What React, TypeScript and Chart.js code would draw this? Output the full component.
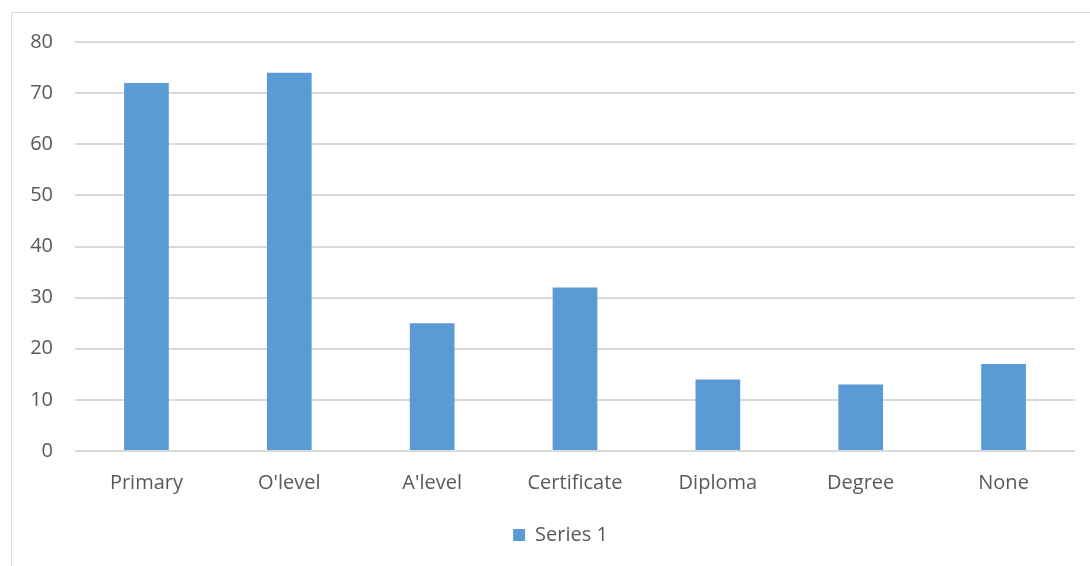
import React, { useEffect, useRef } from "react";
import { Chart, registerables } from "chart.js";

Chart.register(...registerables);

const categories = ["Primary", "O'level", "A'level", "Certificate", "Diploma", "Degree", "None"];
const series1 = [72, 74, 25, 32, 14, 13, 17];
const seriesName = "Series 1";
const yMin = 0;
const yMax = 80;
const yStep = 10;

const FONT = "'Open Sans', Lato, sans-serif";
const TEXT = "#595959";
const GRID = "#d9d9d9";
const BAR = "#5B9BD5";

const legendShift = {
  id: "legendShift",
  afterLayout(chart: any) {
    const l = chart.legend;
    if (!l) return;
    l.left += 23;
    l.right += 23;
  },
};

export default function App() {
  const ref = useRef<HTMLCanvasElement | null>(null);

  useEffect(() => {
    document.body.style.margin = "0";
    const ctx = ref.current;
    if (!ctx) return;
    const chart = new Chart(ctx, {
      type: "bar",
      data: {
        labels: categories,
        datasets: [
          {
            label: seriesName,
            data: series1,
            backgroundColor: BAR,
            borderWidth: 0,
            categoryPercentage: 1,
            barPercentage: 0.313,
          },
        ],
      },
      options: {
        responsive: false,
        animation: false,
        devicePixelRatio: 1,
        layout: { padding: { left: 0, right: 15, top: 42, bottom: 11 } },
        plugins: {
          legend: {
            position: "bottom",
            labels: {
              boxWidth: 12,
              boxHeight: 12,
              color: TEXT,
              font: { family: FONT, size: 20 },
              padding: 10,
            },
          },
          tooltip: { enabled: false },
        },
        scales: {
          x: {
            grid: { display: false, drawTicks: false },
            border: { display: false },
            ticks: { color: TEXT, font: { family: FONT, size: 20 }, padding: 20, maxRotation: 0 },
            afterFit: (s: any) => {
              s.height = 64;
            },
          },
          y: {
            min: yMin,
            max: yMax,
            grid: { color: GRID, lineWidth: 2, drawTicks: false },
            border: { display: false },
            ticks: {
              stepSize: yStep,
              color: TEXT,
              font: { family: FONT, size: 20 },
              padding: 22,
            },
            afterFit: (s: any) => {
              s.width = 75;
            },
          },
        },
      },
      plugins: [legendShift],
    });
    return () => chart.destroy();
  }, []);

  return (
    <div style={{ position: "fixed", left: 0, top: 0, width: 1090, height: 566, background: "#fff", overflow: "hidden" }}>
      <div
        style={{
          position: "absolute",
          left: 11,
          top: 12,
          width: 1200,
          height: 700,
          border: "1px solid #d9d9d9",
        }}
      />
      <canvas ref={ref} width={1090} height={566} style={{ position: "absolute", left: 0, top: 0 }} />
    </div>
  );
}
